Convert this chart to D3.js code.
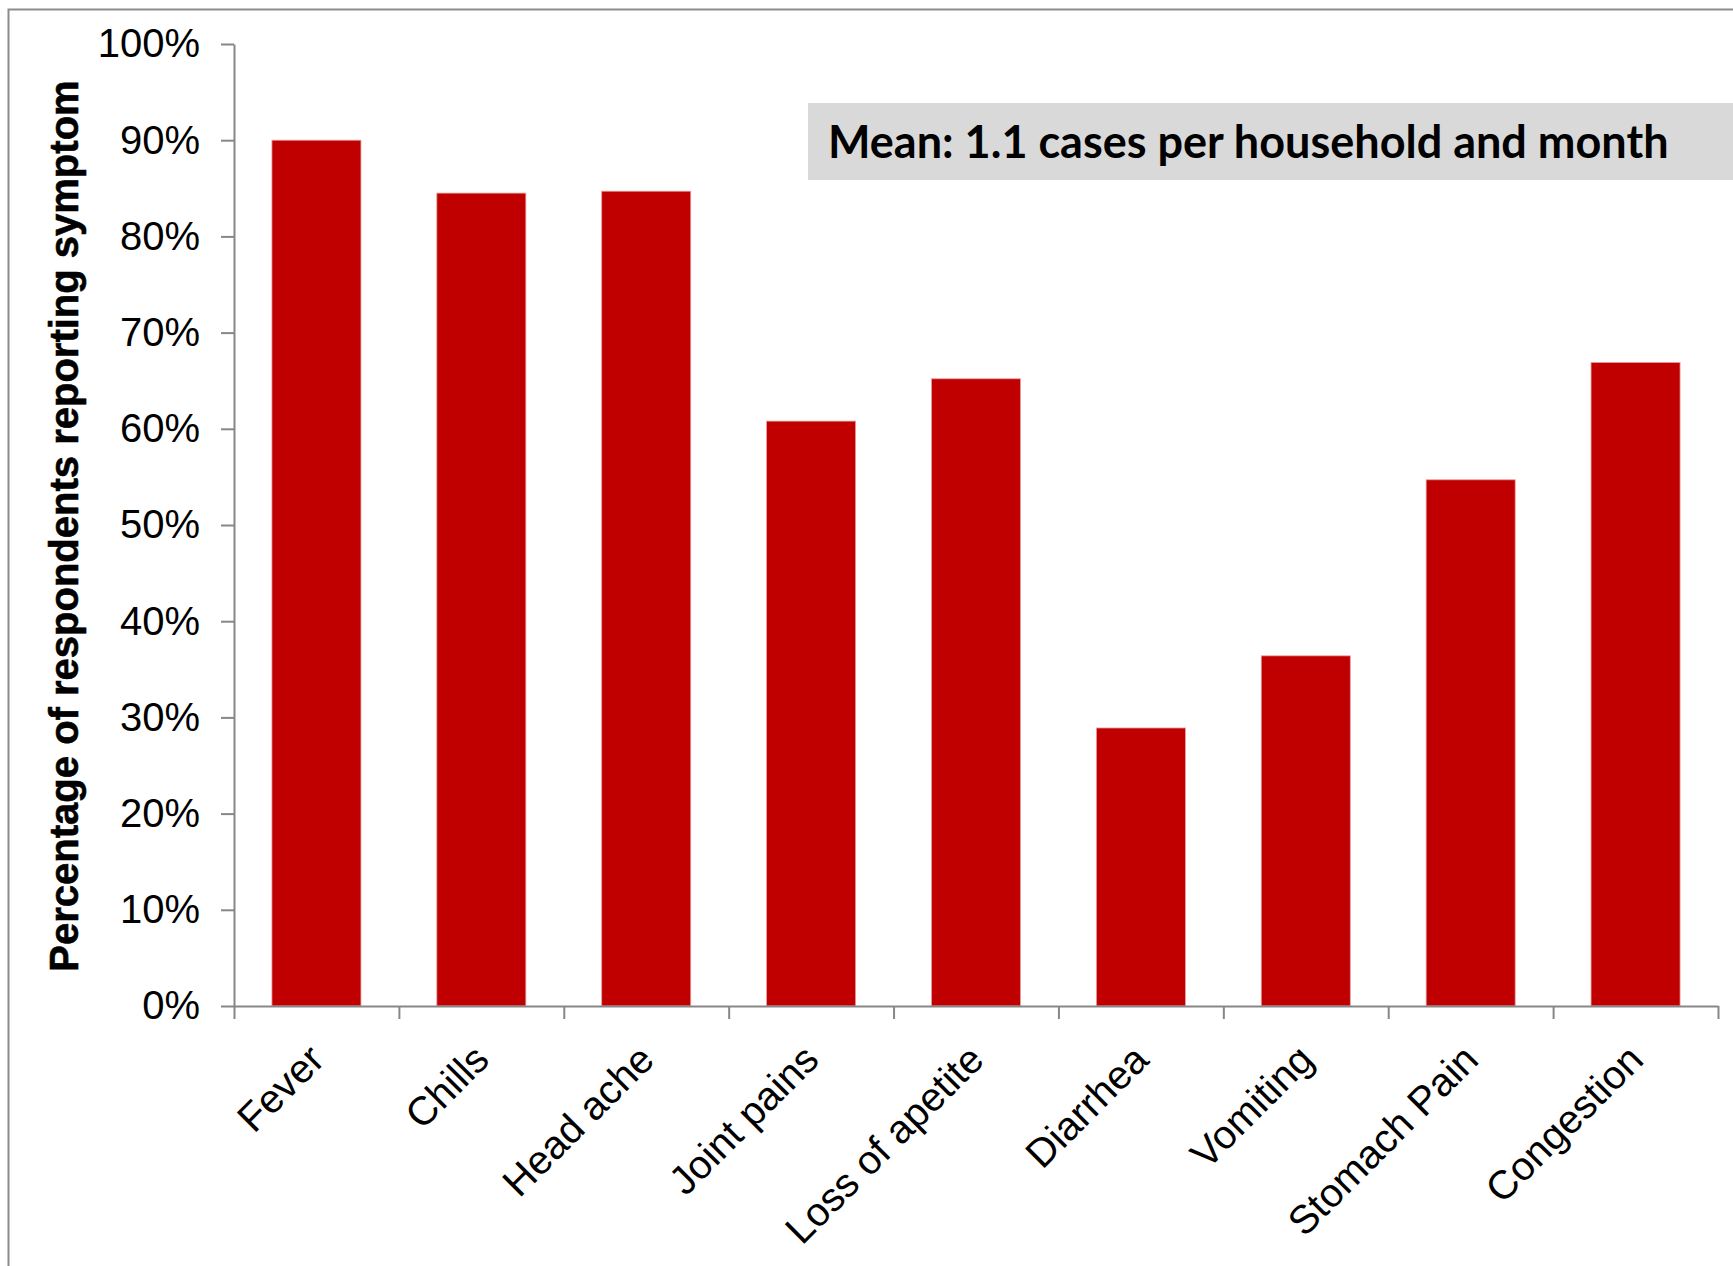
<!DOCTYPE html>
<html><head><meta charset="utf-8">
<script src="https://cdn.jsdelivr.net/npm/d3@7"></script>
<style>body{margin:0;background:#fff}svg{display:block}</style>
</head><body>
<script>
const categories = ["Fever","Chills","Head ache","Joint pains","Loss of apetite","Diarrhea","Vomiting","Stomach Pain","Congestion"];
const values = [0.900, 0.845, 0.847, 0.608, 0.652, 0.289, 0.364, 0.547, 0.669];
const yTicks = [0,0.1,0.2,0.3,0.4,0.5,0.6,0.7,0.8,0.9,1.0];
const yTitle = "Percentage of respondents reporting symptom";
const note = "Mean: 1.1 cases per household and month";

const W = 1733, H = 1266;
const svg = d3.select("body").append("svg").attr("width", W).attr("height", H);
const axisColor = "#878787";

// frame
svg.append("path").attr("d", `M8.5,${H} L8.5,9.5 L${W},9.5`).attr("fill","none").attr("stroke","#8c8c8c").attr("stroke-width",2);

const x0 = 234, x1 = 1718, y0 = 1006, y1 = 44;
const x = d3.scaleBand().domain(categories).range([x0, x1]).paddingInner(0.46).paddingOuter(0.23);
const y = d3.scaleLinear().domain([0, 1]).range([y0, y1]);
const xi = d3.scaleLinear().domain([0, categories.length]).range([x0, x1]);

// bars
svg.append("g").selectAll("rect").data(values).join("rect")
  .attr("x", (d,i) => x(categories[i]))
  .attr("y", d => y(d))
  .attr("width", x.bandwidth())
  .attr("height", d => y(0) - y(d))
  .attr("fill", "#c00000")
  .attr("stroke", "#e8a0a0").attr("stroke-width", 0.8);

// y axis
const ya = svg.append("g").attr("transform", `translate(${x0},0)`)
  .call(d3.axisLeft(y).tickValues(yTicks).tickSize(13).tickSizeOuter(0).tickPadding(21).tickFormat(d3.format(".0%")));
ya.select(".domain").attr("stroke", axisColor).attr("stroke-width", 2);
ya.selectAll(".tick line").attr("stroke", axisColor).attr("stroke-width", 2);
ya.selectAll(".tick text").attr("font-family","'Liberation Sans', Arial, sans-serif").attr("font-size", 40).attr("fill","#000");

// x axis (ticks between categories)
const xa = svg.append("g").attr("transform", `translate(0,${y0})`)
  .call(d3.axisBottom(xi).tickValues(d3.range(0, categories.length + 1)).tickSize(13).tickSizeOuter(0).tickFormat(""));
xa.select(".domain").attr("stroke", axisColor).attr("stroke-width", 2);
xa.selectAll(".tick line").attr("stroke", axisColor).attr("stroke-width", 2);

// x labels
svg.append("g").selectAll("text").data(categories).join("text")
  .attr("transform", d => `translate(${x(d) + x.bandwidth()/2 + 0},${y0 + 46}) rotate(-45)`)
  .attr("text-anchor", "end")
  .attr("dy", "0.35em")
  .attr("font-family","'Liberation Sans', Arial, sans-serif").attr("font-size", 40).attr("fill","#000")
  .text(d => d);

// y title
svg.append("text")
  .attr("transform", `translate(64,${(y0 + y1)/2 + 1}) rotate(-90)`)
  .attr("text-anchor","middle").attr("dy","0.35em")
  .attr("font-family","'Liberation Sans', Arial, sans-serif").attr("font-weight","bold").attr("font-size", 40)
  .attr("stroke","#000").attr("stroke-width",0.6)
  .text(yTitle);

// annotation box
svg.append("rect").attr("x", 808).attr("y", 103).attr("width", W - 808).attr("height", 77).attr("fill", "#d9d9d9");
svg.append("text").attr("x", 828).attr("y", 158)
  .attr("font-family","Lato, 'Open Sans', sans-serif").attr("font-weight","bold").attr("font-size", 45)
  .attr("fill","#000").text(note);
</script>
</body></html>
